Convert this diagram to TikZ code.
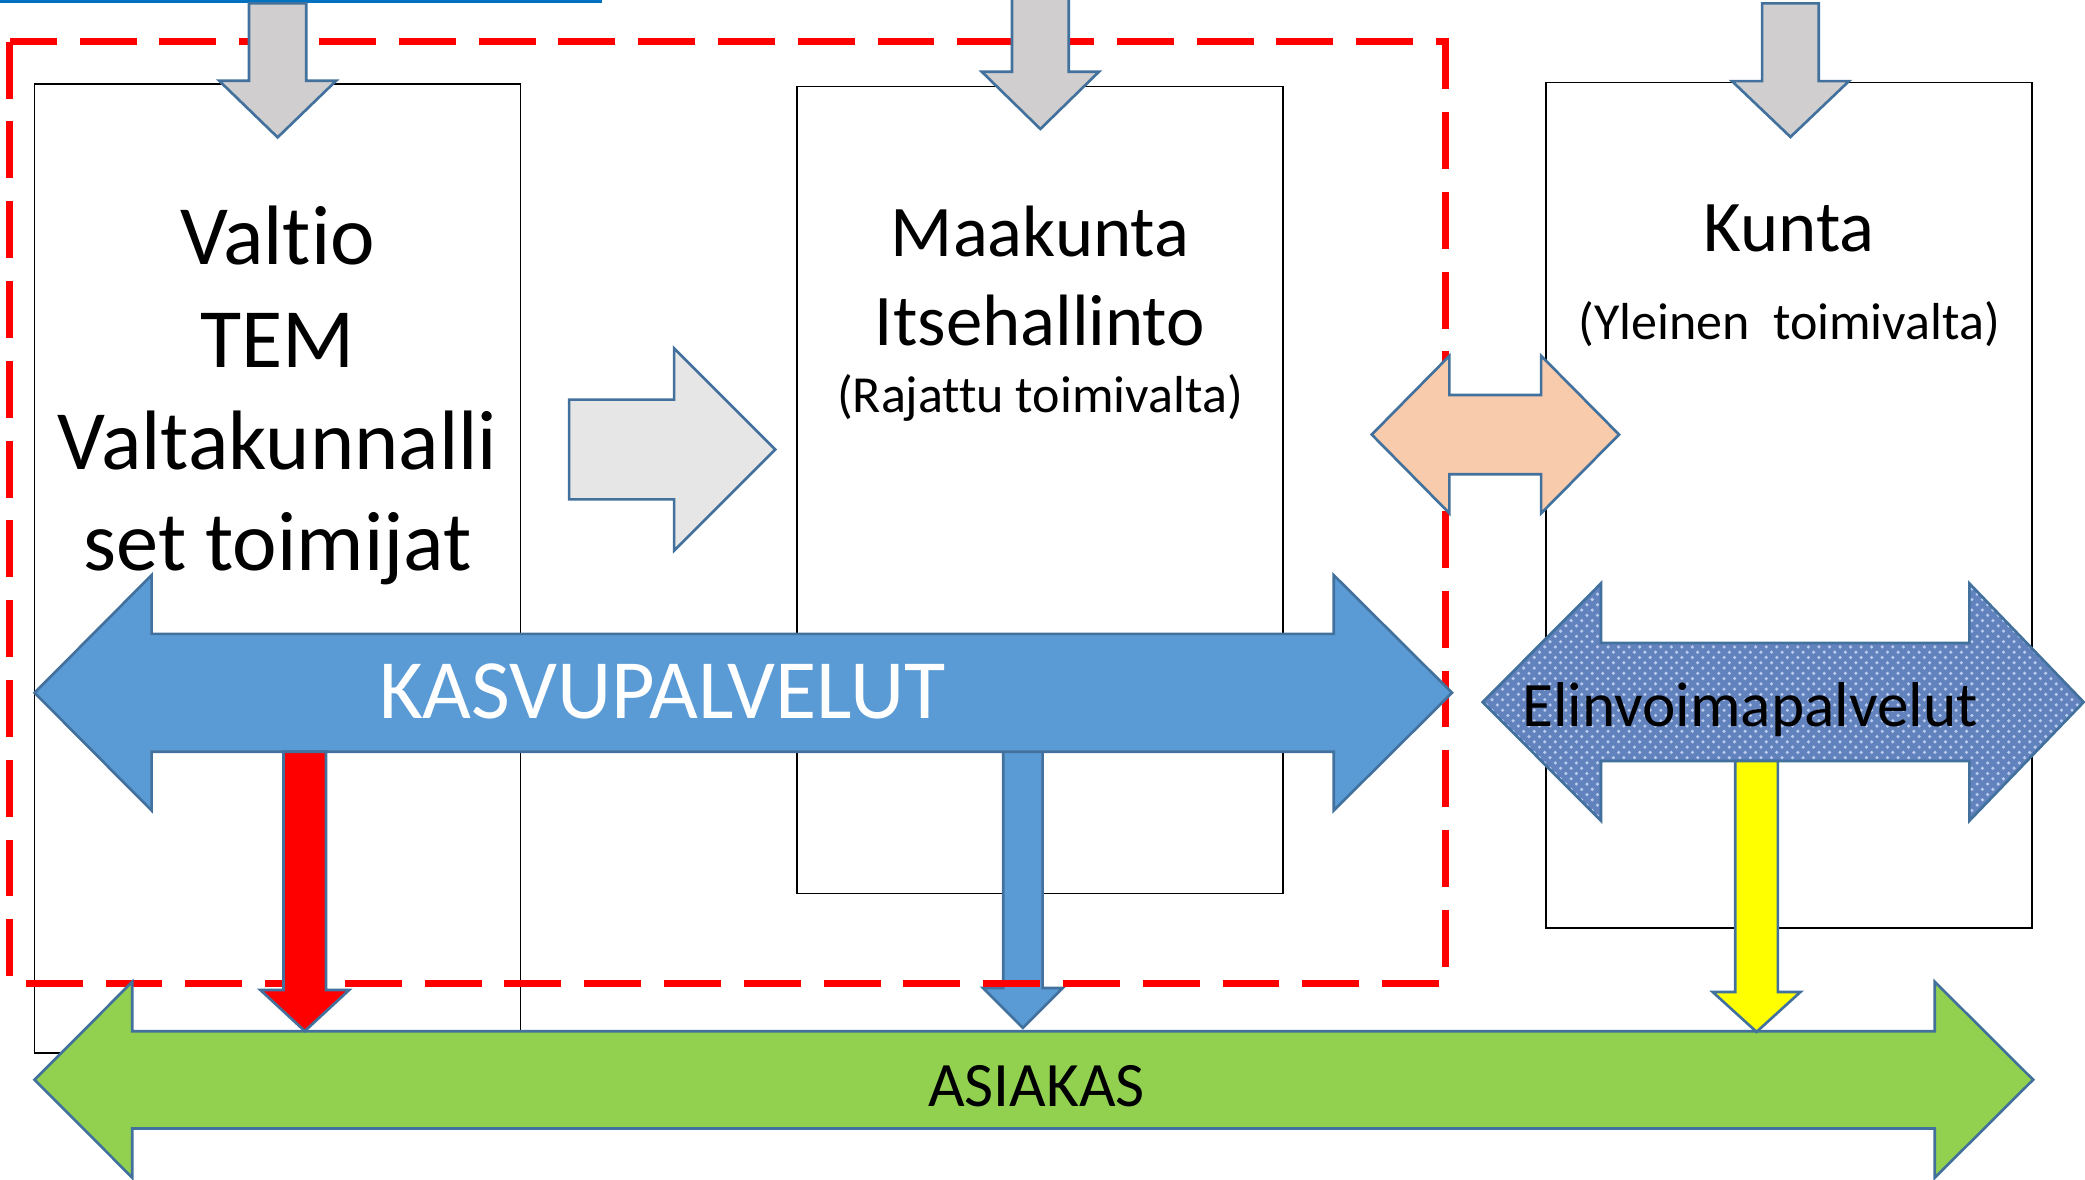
\documentclass[tikz,border=0pt]{standalone}
\usepackage{fontspec}
\setmainfont{Carlito}[Ligatures={NoCommon,NoContextual}]
\usepackage{tikz}
\usetikzlibrary{positioning,calc,patterns}
\definecolor{reuna}{HTML}{41719C}
\definecolor{harmaa}{HTML}{D0CECE}
\definecolor{vaalea}{HTML}{E7E6E6}
\definecolor{persikka}{HTML}{F8CBAD}
\definecolor{sininen}{HTML}{5B9BD5}
\definecolor{vihrea}{HTML}{92D050}
\definecolor{keltainen}{HTML}{FFFF00}
\definecolor{punainen}{HTML}{FF0000}
\definecolor{farkku}{HTML}{6282BD}
\definecolor{farkkuvalo}{HTML}{B8CBEE}
\definecolor{ylaviiva}{HTML}{0070C0}
\tikzstyle{lohko}= [draw, line width=0.5pt, minimum width=48.6mm, inner sep=0pt]
\tikzstyle{nuoli}= [draw=reuna, line width=0.75pt, line join=miter]
\tikzstyle{raja}= [draw=punainen, line width=2pt, dash pattern=on 16.2pt off 6.5pt]
\tikzstyle{iso}= [anchor=base, inner sep=0pt, font=\fontsize{24}{29}\selectfont]
\tikzstyle{keski}= [anchor=base, inner sep=0pt, font=\fontsize{20.7}{25}\selectfont]
\tikzstyle{pieni}= [anchor=base, inner sep=0pt, font=\fontsize{14.8}{18}\selectfont]
\tikzstyle{nimi}= [anchor=base, inner sep=0pt, font=\fontsize{18}{22}\selectfont]

\begin{document}
\begin{tikzpicture}[x=0.13297mm, y=-0.13297mm]
				\useasboundingbox (0,0) rectangle (1568,887);
				\draw[ylaviiva, line width=0.9pt] (0,0.8) -- (453,0.8);

				% laatikot
				\node[lohko, minimum height=96.94mm] (valtiobox) at (208.75, 427.5) {};
				\node[lohko, minimum height=80.71mm] (maakuntabox) at (782.1, 368.5) {};
				\node[lohko, minimum height=84.57mm] (kuntabox) at (1345.5, 380) {};

				% sininen alas
				\draw[nuoli, fill=sininen] (754.5,565) -- (784.1,565) -- (784.1,743) -- (799.3,743) -- (769.3,773) -- (739.3,743) -- (754.5,743) -- cycle;

				\draw[raja] (7.5,31.3) rectangle (1087,739.5);

				% harmaat nuolet
				\draw[nuoli, fill=harmaa] (187.3,2.5) -- (230.3,2.5) -- (230.3,60.7) -- (252.8,60.7) -- (208.8,103.3) -- (164.8,60.7) -- (187.3,60.7) -- cycle;
				\draw[nuoli, fill=harmaa] (761.1,-5) -- (803.7,-5) -- (803.7,54) -- (826.4,54) -- (782.4,97) -- (738.4,54) -- (761.1,54) -- cycle;
				\draw[nuoli, fill=harmaa] (1325.2,2.5) -- (1367.8,2.5) -- (1367.8,61) -- (1390.5,61) -- (1346.5,103) -- (1302.5,61) -- (1325.2,61) -- cycle;
				\draw[nuoli, fill=vaalea] (428,300.5) -- (507,300.5) -- (507,262) -- (583,338) -- (507,414) -- (507,375.5) -- (428,375.5) -- cycle;
				\draw[nuoli, fill=persikka] (1031.6,326.8) -- (1090,267.6) -- (1090,297) -- (1159,297) -- (1159,267.6) -- (1217.6,326.8) -- (1159,386) -- (1159,356.6) -- (1090,356.6) -- (1090,386) -- cycle;

				% palvelut
				\draw[nuoli, fill=sininen] (26,521) -- (114,432.5) -- (114,476.7) -- (1003,476.7) -- (1003,432.5) -- (1092,521) -- (1003,609.5) -- (1003,565.3) -- (114,565.3) -- (114,609.5) -- cycle;
				\draw[nuoli, preaction={fill=farkku}, pattern=crosshatch dots, pattern color=farkkuvalo] (1115,528) -- (1204,438.7) -- (1204,483.5) -- (1481,483.5) -- (1481,438.7) -- (1567,528) -- (1481,617.3) -- (1481,572.3) -- (1204,572.3) -- (1204,617.3) -- cycle;

				% asiakas
				\draw[nuoli, fill=vihrea] (26,812) -- (99.5,738.3) -- (99.5,775.5) -- (1455,775.5) -- (1455,738.3) -- (1529,812) -- (1455,885.7) -- (1455,848.7) -- (99.5,848.7) -- (99.5,885.7) -- cycle;

				\draw[nuoli, fill=punainen] (213.2,565.3) -- (245.2,565.3) -- (245.2,744.5) -- (262.6,744.5) -- (229.2,775.4) -- (195.8,744.5) -- (213.2,744.5) -- cycle;
				\draw[nuoli, fill=keltainen] (1305,572.3) -- (1337,572.3) -- (1337,746) -- (1354,746) -- (1321,776) -- (1288,746) -- (1305,746) -- cycle;

				% tekstit
				\node[iso] (valtio) at (208.75, 199) {Valtio};
				\node[iso] (tem) at (208.75, 276) {TEM};
				\node[iso] (valtak) at (208.75, 353) {Valtakunnalli};
				\node[iso] (toimijat) at (208.75, 429) {set toimijat};
				\node[keski] (maakunta) at (782.1, 193) {Maakunta};
				\node[keski] (itsehall) at (782.1, 260) {Itsehallinto};
				\node[pieni] (rajattu) at (782.1, 310) {(Rajattu toimivalta)};
				\node[keski] (kunta) at (1345.5, 189) {Kunta};
				\node[pieni] (yleinen) at (1345.5, 255) {(Yleinen\ \ toimivalta)};
				\node[iso, text=white] (kasvu) at (498, 540) {KASVUPALVELUT};
				\node[nimi] (elinvoima) at (1316, 546) {Elinvoimapalvelut};
				\node[nimi] (asiakas) at (779.5, 832) {ASIAKAS};
\end{tikzpicture}
\end{document}
